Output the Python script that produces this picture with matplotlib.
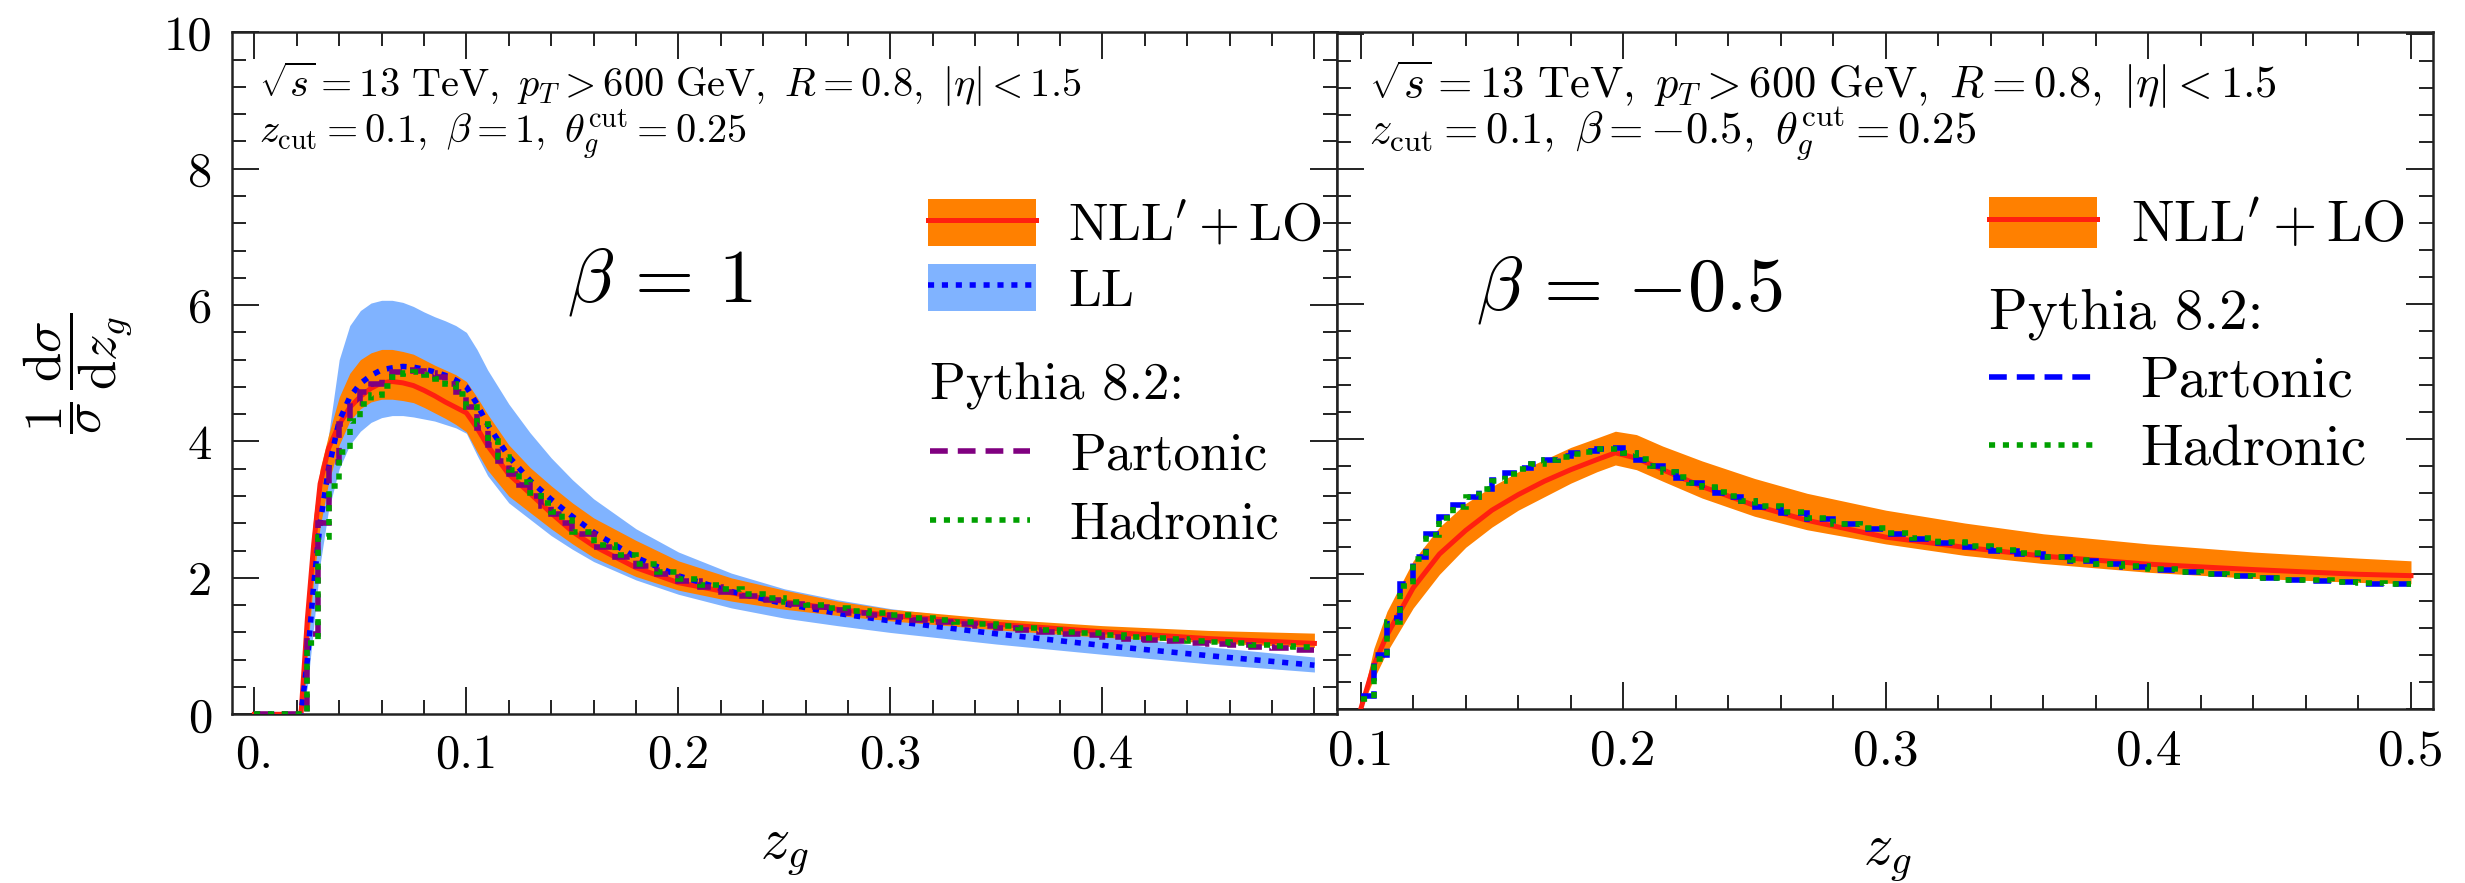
import numpy as np
import matplotlib
matplotlib.use('Agg')
import matplotlib.pyplot as plt
from matplotlib.patches import Patch
from matplotlib.lines import Line2D
from matplotlib.ticker import MultipleLocator

plt.rcParams['font.family'] = 'cmr10'
plt.rcParams['mathtext.fontset'] = 'cm'
plt.rcParams['axes.formatter.use_mathtext'] = True

W, H = 2465, 883

# ---------------- left panel (beta = 1) ----------------
zg_L = [0, 0.02, 0.022, 0.025, 0.028, 0.031, 0.035, 0.04, 0.045, 0.05, 0.055, 0.06, 0.065,
        0.07, 0.075, 0.08, 0.085, 0.09, 0.095, 0.1, 0.105, 0.11, 0.12, 0.13, 0.14, 0.15,
        0.16, 0.18, 0.2, 0.225, 0.25, 0.275, 0.3, 0.35, 0.4, 0.45, 0.5]
nll_L = [0, 0, 0, 1.4, 2.5, 3.38, 3.9, 4.25, 4.5, 4.66, 4.78, 4.86, 4.88, 4.86, 4.82, 4.75,
         4.67, 4.58, 4.5, 4.42, 4.2, 3.94, 3.52, 3.24, 2.95, 2.68, 2.47, 2.15, 1.93, 1.78,
         1.65, 1.54, 1.45, 1.32, 1.21, 1.11, 1.04]
nll_L_hi = [0, 0, 0.2, 1.8, 2.9, 3.6, 4.1, 4.65, 5.0, 5.2, 5.3, 5.35, 5.35, 5.32, 5.28, 5.2,
            5.12, 5.05, 4.98, 4.88, 4.65, 4.4, 3.95, 3.62, 3.35, 3.1, 2.88, 2.55, 2.25, 2.0,
            1.82, 1.66, 1.54, 1.4, 1.3, 1.23, 1.19]
nll_L_lo = [0, 0, 0, 0.9, 2.0, 2.75, 3.4, 3.95, 4.3, 4.48, 4.58, 4.62, 4.62, 4.6, 4.57, 4.5,
            4.42, 4.34, 4.25, 4.14, 3.85, 3.58, 3.2, 2.96, 2.72, 2.5, 2.3, 2.02, 1.82, 1.66,
            1.54, 1.45, 1.37, 1.24, 1.13, 1.05, 0.98]
ll_L = [0, 0, 0, 0.8, 1.9, 2.8, 3.6, 4.3, 4.65, 4.85, 4.97, 5.05, 5.08, 5.1, 5.09, 5.06,
        5.02, 4.97, 4.9, 4.8, 4.55, 4.25, 3.78, 3.43, 3.15, 2.9, 2.67, 2.3, 2.03, 1.8,
        1.62, 1.48, 1.37, 1.18, 1.01, 0.86, 0.72]
ll_L_hi = [0, 0, 0, 1.2, 2.5, 3.3, 4.1, 5.2, 5.7, 5.92, 6.03, 6.07, 6.07, 6.04, 5.98, 5.9,
           5.83, 5.77, 5.7, 5.6, 5.35, 5.05, 4.55, 4.13, 3.76, 3.44, 3.16, 2.72, 2.38, 2.07,
           1.84, 1.68, 1.55, 1.36, 1.17, 0.99, 0.84]
ll_L_lo = [0, 0, 0, 0.4, 1.3, 2.2, 3.0, 3.6, 3.95, 4.15, 4.28, 4.35, 4.38, 4.38, 4.36, 4.33,
           4.3, 4.25, 4.2, 4.12, 3.8, 3.5, 3.1, 2.86, 2.62, 2.42, 2.24, 1.97, 1.76, 1.56,
           1.41, 1.3, 1.2, 1.03, 0.88, 0.74, 0.62]

# Pythia histograms (bins of 0.005 up to 0.15, then 0.01)
edges_L = np.round(np.r_[np.arange(0, 0.15, 0.005), np.arange(0.15, 0.5001, 0.01)], 4)
part_L = [0, 0, 0, 0, 0,
          1.18, 2.8, 3.7, 4.26, 4.56, 4.72, 4.85, 4.95, 5.02, 5.05, 5.04, 5.0, 4.95, 4.85,
          4.72, 4.5, 4.2, 3.95, 3.72, 3.52, 3.36, 3.2, 3.06, 2.93, 2.8,
          2.65, 2.45, 2.3, 2.17, 2.05, 1.95, 1.87, 1.8, 1.73, 1.67, 1.62, 1.57, 1.53, 1.49,
          1.45, 1.42, 1.38, 1.35, 1.32, 1.29, 1.26, 1.24, 1.21, 1.18, 1.16, 1.14, 1.11,
          1.09, 1.07, 1.05, 1.03, 1.01, 0.99, 0.97, 0.95]
hadr_L = [0, 0, 0, 0, 0,
          1.05, 2.6, 3.35, 3.85, 4.3, 4.55, 4.68, 4.82, 4.95, 5.0, 5.02, 4.98, 4.92, 4.85,
          4.7, 4.5, 4.25, 4.0, 3.78, 3.58, 3.4, 3.25, 3.1, 2.97, 2.85,
          2.68, 2.48, 2.33, 2.2, 2.08, 1.98, 1.9, 1.83, 1.76, 1.7, 1.65, 1.6, 1.56, 1.52,
          1.48, 1.45, 1.41, 1.38, 1.35, 1.32, 1.29, 1.27, 1.24, 1.21, 1.19, 1.16, 1.14,
          1.12, 1.1, 1.08, 1.06, 1.04, 1.02, 1.0, 0.98]

# ---------------- right panel (beta = -0.5) ----------------
zg_R = [0.1, 0.105, 0.11, 0.12, 0.13, 0.14, 0.15, 0.16, 0.17, 0.18, 0.19, 0.197, 0.205,
        0.215, 0.23, 0.25, 0.27, 0.3, 0.33, 0.36, 0.4, 0.44, 0.48, 0.5]
nll_R = [0, 0.65, 1.1, 1.8, 2.3, 2.65, 2.95, 3.18, 3.38, 3.55, 3.7, 3.8, 3.72, 3.55, 3.3,
         3.02, 2.8, 2.55, 2.4, 2.27, 2.15, 2.07, 2.0, 1.98]
nll_R_hi = [0.05, 0.9, 1.45, 2.2, 2.7, 3.05, 3.3, 3.52, 3.7, 3.88, 4.02, 4.12, 4.07, 3.9,
            3.68, 3.42, 3.2, 2.95, 2.76, 2.6, 2.45, 2.33, 2.24, 2.2]
nll_R_lo = [0, 0.45, 0.85, 1.5, 2.0, 2.4, 2.7, 2.95, 3.15, 3.35, 3.52, 3.62, 3.55, 3.38,
            3.13, 2.86, 2.66, 2.45, 2.28, 2.16, 2.03, 1.94, 1.88, 1.86]

edges_R = np.round(np.r_[np.arange(0.1, 0.25, 0.005), np.arange(0.25, 0.5001, 0.01)], 4)
part_R = [0.2, 0.8, 1.35, 1.85, 2.25, 2.6, 2.85, 3.02, 3.15, 3.27, 3.4, 3.5, 3.58, 3.64,
          3.7, 3.75, 3.79, 3.82, 3.86, 3.87, 3.8, 3.7, 3.6, 3.51, 3.43, 3.35, 3.28, 3.21,
          3.15, 3.08,
          3.0, 2.91, 2.82, 2.74, 2.67, 2.6, 2.53, 2.47, 2.41, 2.35, 2.3, 2.25, 2.2, 2.15,
          2.11, 2.07, 2.03, 2.0, 1.97, 1.94, 1.91, 1.9, 1.88, 1.86, 1.85]
hadr_R = [0.15, 0.75, 1.3, 1.82, 2.22, 2.58, 2.83, 3.0, 3.14, 3.26, 3.38, 3.48, 3.56, 3.63,
          3.69, 3.74, 3.78, 3.81, 3.85, 3.86, 3.8, 3.71, 3.61, 3.52, 3.44, 3.36, 3.29, 3.22,
          3.16, 3.09,
          3.01, 2.92, 2.83, 2.75, 2.68, 2.61, 2.54, 2.48, 2.42, 2.36, 2.31, 2.26, 2.21, 2.16,
          2.12, 2.08, 2.04, 2.01, 1.98, 1.95, 1.92, 1.91, 1.89, 1.87, 1.86]

c_band = '#ff8000'
c_red = '#ff2010'
c_llband = '#80b3ff'
c_purple = '#800080'
c_green = '#00a000'
dash = (0, (3.2, 1.8))
dot = (0, (1.1, 1.4))
lw_mc = 4.0


def fxy(px, py):
    return px / W, 1 - py / H


fig = plt.figure(figsize=(W / 100, H / 100), dpi=100)
axL = fig.add_axes([231.7 / W, 1 - 714.3 / H, 1105.6 / W, 682.0 / H])
axR = fig.add_axes([1337.3 / W, 1 - 709.3 / H, 1096.0 / W, 677.0 / H])

# left
axL.fill_between(zg_L, ll_L_lo, ll_L_hi, color=c_llband, lw=0, zorder=1)
axL.fill_between(zg_L, nll_L_lo, nll_L_hi, color=c_band, lw=0, zorder=2)
axL.plot(zg_L, nll_L, color=c_red, lw=3.6, zorder=3)
axL.plot(zg_L, ll_L, color='blue', lw=lw_mc, ls=dot, zorder=4)
axL.stairs(part_L, edges_L, color=c_purple, lw=lw_mc, ls=dash, zorder=5, baseline=None)
axL.stairs(hadr_L, edges_L, color=c_green, lw=lw_mc, ls=dot, zorder=6, baseline=None)
axL.set_xlim(-0.0107, 0.5108)
axL.set_ylim(0, 10)

# right
axR.fill_between(zg_R, nll_R_lo, nll_R_hi, color=c_band, lw=0, zorder=2)
axR.plot(zg_R, nll_R, color=c_red, lw=3.6, zorder=3)
axR.stairs(part_R, edges_R, color='blue', lw=lw_mc, ls=dash, zorder=5, baseline=None)
axR.stairs(hadr_R, edges_R, color=c_green, lw=lw_mc, ls=dot, zorder=6, baseline=None)
axR.set_xlim(0.0911, 0.5085)
axR.set_ylim(0, 10.03)

for ax in (axL, axR):
    ax.xaxis.set_minor_locator(MultipleLocator(0.02))
    ax.yaxis.set_minor_locator(MultipleLocator(0.4))
    ax.tick_params(which='both', direction='in', top=True, right=True, width=1.4,
                   color='#222222')
    ax.tick_params(which='major', length=19.5, pad=14, labelsize=35)
    ax.tick_params(which='minor', length=10)
    for s in ax.spines.values():
        s.set_linewidth(1.8)
        s.set_color('#222222')

axL.set_xticks([0, 0.1, 0.2, 0.3, 0.4, 0.5], ['0.', '0.1', '0.2', '0.3', '0.4', ''])
axL.set_yticks([0, 2, 4, 6, 8, 10], ['0', '2', '4', '6', '8', '10'])
axR.set_xticks([0.1, 0.2, 0.3, 0.4, 0.5], ['0.1', '0.2', '0.3', '0.4', '0.5'])
axR.tick_params(axis='x', labelsize=37)
axR.set_yticks([0, 2, 4, 6, 8, 10])
axR.tick_params(labelleft=False)

# axis labels
fig.text(*fxy(78, 373), r'$\dfrac{1}{\sigma}\,\dfrac{\mathrm{d}\sigma}{\mathrm{d}z_g}$',
         rotation=90, ha='center', va='center', fontsize=38)
fig.text(*fxy(784, 852), r'$z_g$', ha='center', va='center', fontsize=42)
fig.text(*fxy(1887, 858), r'$z_g$', ha='center', va='center', fontsize=42)

# annotations
fig.text(*fxy(259, 97), r'$\sqrt{s}=13\ \mathrm{TeV},\ p_T>600\ \mathrm{GeV},\ R=0.8,\ |\eta|<1.5$',
         fontsize=29, va='baseline')
fig.text(*fxy(259, 143), r'$z_{\mathrm{cut}}=0.1,\ \beta=1,\ \theta_g^{\mathrm{cut}}=0.25$',
         fontsize=29, va='baseline')
fig.text(*fxy(1369, 98), r'$\sqrt{s}=13\ \mathrm{TeV},\ p_T>600\ \mathrm{GeV},\ R=0.8,\ |\eta|<1.5$',
         fontsize=32, va='baseline')
fig.text(*fxy(1369, 143), r'$z_{\mathrm{cut}}=0.1,\ \beta=-0.5,\ \theta_g^{\mathrm{cut}}=0.25$',
         fontsize=32, va='baseline')
fig.text(*fxy(567, 302), r'$\beta\,=\,1$', fontsize=55, va='baseline')
fig.text(*fxy(1476, 310), r'$\beta\,=\,{-}0.5$', fontsize=55, va='baseline')

# legends
lab_nll = r"$\mathrm{NLL}^{\prime}+\mathrm{LO}$"
h_nll = (Patch(fc=c_band, ec='none'), Line2D([], [], color=c_red, lw=3.6))
h_ll = (Patch(fc=c_llband, ec='none'), Line2D([], [], color='blue', lw=lw_mc, ls=dot))
legL1 = fig.legend([h_nll, h_ll], [lab_nll, r'$\mathrm{LL}$'], loc='upper left',
                   bbox_to_anchor=fxy(928, 199), frameon=False, borderpad=0,
                   borderaxespad=0, handlelength=2.05, handleheight=1.0,
                   handletextpad=0.6, labelspacing=0.25, fontsize=38)
legL2 = fig.legend([Line2D([], [], color=c_purple, lw=lw_mc, ls=dash),
                    Line2D([], [], color=c_green, lw=lw_mc, ls=dot)],
                   ['Partonic', 'Hadronic'], title='Pythia 8.2:', alignment='left',
                   loc='upper left', bbox_to_anchor=fxy(930, 363), frameon=False,
                   borderpad=0, borderaxespad=0, handlelength=1.9, handletextpad=0.75,
                   labelspacing=0.42, fontsize=38, title_fontsize=38)
legR1 = fig.legend([h_nll], [lab_nll], loc='upper left', bbox_to_anchor=fxy(1989, 197),
                   frameon=False, borderpad=0, borderaxespad=0, handlelength=1.9,
                   handleheight=1.0, handletextpad=0.6, fontsize=41)
legR2 = fig.legend([Line2D([], [], color='blue', lw=lw_mc, ls=dash),
                    Line2D([], [], color=c_green, lw=lw_mc, ls=dot)],
                   ['Partonic', 'Hadronic'], title='Pythia 8.2:', alignment='left',
                   loc='upper left', bbox_to_anchor=fxy(1989, 288), frameon=False,
                   borderpad=0, borderaxespad=0, handlelength=1.9, handletextpad=0.75,
                   labelspacing=0.3, fontsize=41, title_fontsize=41)

fig.savefig('out.png', dpi=100)
